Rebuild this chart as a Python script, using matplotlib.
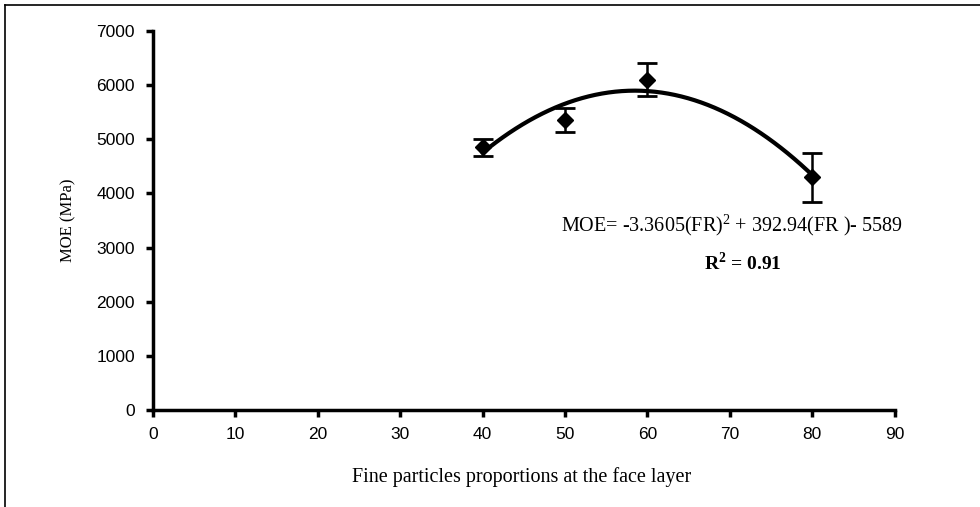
import numpy as np
import matplotlib
matplotlib.use('Agg')
import matplotlib.pyplot as plt
from matplotlib.lines import Line2D

plt.rcParams['mathtext.fontset'] = 'custom'
plt.rcParams['mathtext.rm'] = 'Liberation Serif'
plt.rcParams['mathtext.bf'] = 'Liberation Serif:bold'

# fine particle proportion (%) and MOE (MPa)
fr = [40, 50, 60, 80]
moe = [4850, 5350, 6100, 4300]
moe_err = [150, 220, 300, 450]

# quadratic fit given on the chart
fit_coef = [-3.3605, 392.94, -5589]
fit_range = [40, 80]

x_ticks = [0, 10, 20, 30, 40, 50, 60, 70, 80, 90]
y_ticks = [0, 1000, 2000, 3000, 4000, 5000, 6000, 7000]

fig = plt.figure(figsize=(9.8, 5.07), dpi=100)
ax = fig.add_axes([0.156, 0.191, 0.757, 0.748])

xs = np.linspace(fit_range[0], fit_range[1], 200)
ax.plot(xs, np.polyval(fit_coef, xs), color='black', lw=3, zorder=2)
ax.errorbar(fr, moe, yerr=moe_err, fmt='D', color='black', ms=8.5,
            ecolor='black', elinewidth=1.8, capsize=7, capthick=2, zorder=3)

ax.set_xlim(0, 90)
ax.set_ylim(0, 7000)
ax.set_xticks(x_ticks)
ax.set_yticks(y_ticks)
for s in ['top', 'right']:
    ax.spines[s].set_visible(False)
for s in ['left', 'bottom']:
    ax.spines[s].set_linewidth(2.5)
ax.tick_params(direction='out', width=2.5, length=5, labelsize=12.5)
ax.tick_params(axis='y', pad=8)
ax.tick_params(axis='x', pad=7)
for lab in ax.get_xticklabels() + ax.get_yticklabels():
    lab.set_family('Liberation Sans')

ax.set_ylabel('MOE (MPa)', family='Liberation Serif', fontsize=12, labelpad=14)
fig.text(0.532, 0.059, 'Fine particles proportions at the face layer',
         family='Liberation Serif', fontsize=14.5, ha='center', va='center')

ax.text(0.747, 0.556, r'MOE= -3.3605(FR)$^{\mathrm{2}}$ + 392.94(FR )- 5589',
        transform=fig.transFigure, family='Liberation Serif', fontsize=14.5,
        ha='center', va='center')
ax.text(0.758, 0.481, r'R$^{\mathbf{2}}$ = 0.91', transform=fig.transFigure,
        family='Liberation Serif', fontsize=14, fontweight='bold',
        ha='center', va='center')

# page border (top and left only)
fig.add_artist(Line2D([0.005, 0.005], [0, 0.99], transform=fig.transFigure, color='black', lw=1.2))
fig.add_artist(Line2D([0.005, 1], [0.99, 0.99], transform=fig.transFigure, color='black', lw=1.2))

fig.savefig('out.png', dpi=100)
